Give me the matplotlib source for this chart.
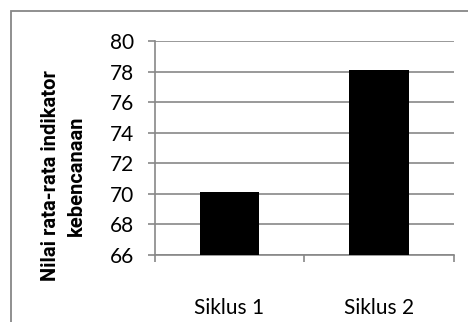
import matplotlib
matplotlib.use("Agg")
import matplotlib.pyplot as plt
from matplotlib.patches import Rectangle

# data
siklus = ["Siklus 1", "Siklus 2"]
nilai = [70.1, 78.1]
y_ticks = [66, 68, 70, 72, 74, 76, 78, 80]
y_label = "Nilai rata-rata indikator\nkebencanaan"

grey = "#878787"
plt.rcParams["font.family"] = ["Lato", "DejaVu Sans"]

fig = plt.figure(figsize=(4.68, 3.22), dpi=100)
ax = fig.add_axes([0.3306, 0.208, 0.6394, 0.6647])

x = range(len(siklus))
ax.bar(x, [v - y_ticks[0] for v in nilai], bottom=y_ticks[0], width=0.4,
       color="black", zorder=3)

ax.set_xlim(-0.5, len(siklus) - 0.5)
ax.set_ylim(y_ticks[0], y_ticks[-1])
ax.set_yticks(y_ticks)
ax.set_yticklabels([str(t) for t in y_ticks])
ax.grid(axis="y", color=grey, lw=1.2, zorder=0)

# category boundaries as major ticks, names as minor ticks
ax.set_xticks([i - 0.5 for i in range(len(siklus) + 1)])
ax.set_xticklabels([])
ax.set_xticks(list(x), minor=True)
ax.set_xticklabels(siklus, minor=True)
ax.tick_params(axis="x", which="major", length=5, width=1.2, color=grey, direction="out")
ax.tick_params(axis="x", which="minor", length=0, pad=31, labelsize=15)
ax.tick_params(axis="y", length=5, width=1.2, color=grey, pad=10, labelsize=15)

for side in ["top", "right"]:
    ax.spines[side].set_visible(False)
for side in ["left", "bottom"]:
    ax.spines[side].set_color(grey)
    ax.spines[side].set_linewidth(1.2)

ax.set_ylabel(y_label, fontsize=14.5, fontweight="bold", linespacing=1.45,
              va="center", ha="center", family=["Roboto", "DejaVu Sans"])
ax.yaxis.set_label_coords(-0.305, 0.37)

# chart frame
fig.patches.append(Rectangle((11 / 468, -0.1), 1.2, 1 - 11 / 322 + 0.1,
                             transform=fig.transFigure, fill=False,
                             edgecolor=grey, lw=1.3))

fig.savefig("out.png", dpi=100)
